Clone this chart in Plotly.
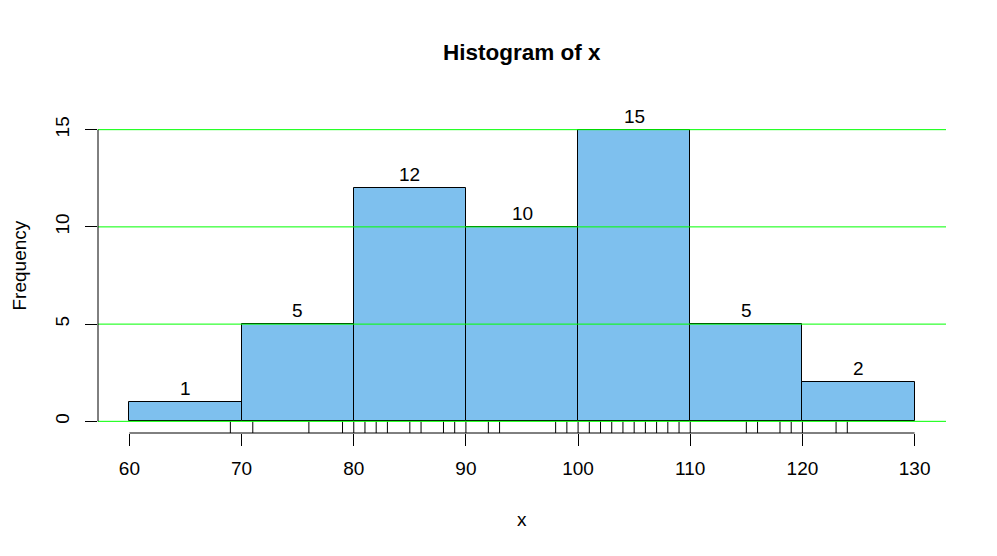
import numpy as np
import plotly.graph_objs as go

# histogram bins (right closed, as in R's hist) and the counts printed above them
bin_edges = [60, 70, 80, 90, 100, 110, 120, 130]
counts    = [1, 5, 12, 10, 15, 5, 2]

# distinct positions of the rug ticks under the bars
rug_x = [69, 71, 76, 79, 80, 81, 82, 83, 85, 86, 88, 89, 90, 92, 93,
         98, 99, 100, 101, 102, 103, 104, 105, 106, 107, 108, 109, 110,
         115, 116, 118, 119, 120, 123, 124]

x_ticks = [60, 70, 80, 90, 100, 110, 120, 130]
y_ticks = [0, 5, 10, 15]
h_lines = [0, 5, 10, 15]

# the page body has an 8px margin, so the figure is drawn 8px smaller
W, H = 981, 540
FONT = "Liberation Sans, Arial, sans-serif"


def main():

    edges   = np.array(bin_edges, dtype=float)
    centers = (edges[:-1] + edges[1:]) / 2
    widths  = np.diff(edges)

    # R style 4% padding on both axes
    xspan  = edges[-1] - edges[0]
    xrange = [edges[0] - 0.04 * xspan, edges[-1] + 0.04 * xspan]
    ymax   = max(counts)
    yrange = [-0.04 * ymax, ymax * 1.04]

    def px(v):  # data x -> paper x
        return (v - xrange[0]) / (xrange[1] - xrange[0])

    def py(v):  # data y -> paper y
        return (v - yrange[0]) / (yrange[1] - yrange[0])

    bars = go.Bar(
                  x          = centers,
                  y          = counts,
                  width      = widths,
                  marker     = dict(color="#7EC0EE", line=dict(color="black", width=1)),
                  showlegend = False,
                  hoverinfo  = "skip",
                  )

    rx, ry = [], []
    for v in rug_x:
        rx += [v, v, None]
        ry += [yrange[0], 0, None]
    rug = go.Scatter(
                     x          = rx,
                     y          = ry,
                     mode       = "lines",
                     line       = dict(color="black", width=1),
                     showlegend = False,
                     hoverinfo  = "skip",
                     )

    fig = go.Figure([bars, rug])

    shapes = []
    for h in h_lines:
        shapes.append(dict(type="line", xref="paper", yref="y", x0=0, x1=1, y0=h, y1=h,
                           line=dict(color="#00FF00", width=1), layer="above"))
    # axis lines only spanning the tick range, like R
    shapes.append(dict(type="line", xref="paper", yref="paper",
                       x0=px(x_ticks[0]), x1=px(x_ticks[-1]), y0=0, y1=0,
                       line=dict(color="black", width=1)))
    shapes.append(dict(type="line", xref="paper", yref="paper",
                       x0=0, x1=0, y0=py(y_ticks[0]), y1=py(y_ticks[-1]),
                       line=dict(color="black", width=1)))

    annotations = [dict(x=c, y=n, xref="x", yref="y", text=str(n), showarrow=False,
                        yanchor="bottom", yshift=1, font=dict(size=19, color="black", family=FONT))
                   for c, n in zip(centers, counts)]

    annotations += [
        dict(x=0.5, y=1, xref="paper", yref="paper", yanchor="middle", yshift=66,
             text="<b>Histogram of x</b>", showarrow=False,
             font=dict(size=22.5, color="black", family=FONT)),
        dict(x=0.5, y=0, xref="paper", yref="paper", yanchor="middle", yshift=-86,
             text="x", showarrow=False, font=dict(size=19, color="black", family=FONT)),
        dict(x=0, y=0.5, xref="paper", yref="paper", xanchor="center", xshift=-79, yshift=10,
             text="Frequency", textangle=-90, showarrow=False, borderpad=0,
             font=dict(size=19, color="black", family=FONT)),
    ]

    fig.update_layout(
                      width         = W,
                      height        = H,
                      margin        = dict(l=90, r=43, t=110, b=115, autoexpand=False),
                      paper_bgcolor = "white",
                      plot_bgcolor  = "white",
                      bargap        = 0,
                      font          = dict(family=FONT, size=19, color="black"),
                      shapes        = shapes,
                      annotations   = annotations,
                      xaxis = dict(
                                   range       = xrange,
                                   tickvals    = x_ticks,
                                   ticks       = "outside",
                                   ticklen     = 12,
                                   tickwidth   = 1,
                                   tickcolor   = "black",
                                   ticklabelstandoff = 6,
                                   showgrid    = False,
                                   zeroline    = False,
                                   showline    = False,
                                   fixedrange  = True,
                                   ),
                      yaxis = dict(
                                   range       = yrange,
                                   tickvals    = y_ticks,
                                   ticks       = "outside",
                                   ticklen     = 12,
                                   tickwidth   = 1,
                                   tickcolor   = "black",
                                   tickangle   = -90,
                                   ticklabelstandoff = 8,
                                   showgrid    = False,
                                   zeroline    = False,
                                   showline    = False,
                                   fixedrange  = True,
                                   ),
                      )

    fig.write_html("out.html")


if __name__ == '__main__':

    main()
